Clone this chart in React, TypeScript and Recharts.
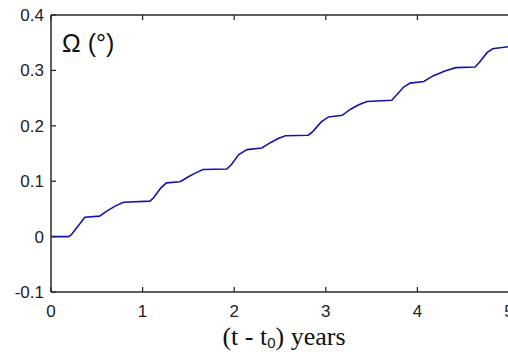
import React from 'react';
import { LineChart, Line, XAxis, YAxis, Label } from 'recharts';

// elapsed time (years) and node longitude shift Omega (deg)
const years = [
  0, 0.19, 0.22, 0.3, 0.37, 0.53, 0.6, 0.7, 0.79, 1.08, 1.12, 1.2, 1.26, 1.41, 1.5, 1.58,
  1.66, 1.92, 1.97, 2.05, 2.14, 2.3, 2.4, 2.48, 2.56, 2.81, 2.86, 2.95, 3.03, 3.18, 3.27,
  3.36, 3.45, 3.72, 3.77, 3.85, 3.92, 4.07, 4.17, 4.3, 4.42, 4.63, 4.68, 4.76, 4.82, 5.0
];
const omega = [
  0, 0, 0.003, 0.02, 0.035, 0.037, 0.045, 0.055, 0.062, 0.064, 0.07, 0.088, 0.097, 0.099,
  0.108, 0.115, 0.121, 0.122, 0.13, 0.148, 0.157, 0.16, 0.17, 0.177, 0.182, 0.183, 0.19,
  0.207, 0.216, 0.219, 0.23, 0.238, 0.244, 0.246, 0.255, 0.27, 0.277, 0.28, 0.29, 0.299,
  0.305, 0.306, 0.315, 0.332, 0.339, 0.343
];
const xTicks = [0, 1, 2, 3, 4, 5];
const yTicks = [-0.1, 0, 0.1, 0.2, 0.3, 0.4];

const data = years.map((t, i) => ({ t, omega: omega[i] }));

const AXIS = '#2a2a2a';
const TICK = 5;
const FONT = '"Liberation Sans", Arial, sans-serif';

const fmtY = (v: number) => (v === 0 ? '0' : v.toFixed(1));

// ticks point into the plot box, labels sit outside
const BottomTick = ({ x, y, payload }: any) => (
  <g>
    <line x1={x} x2={x} y1={y} y2={y - TICK} stroke={AXIS} strokeWidth={1.3} />
    <text x={x} y={y + 25} textAnchor="middle" fontFamily={FONT} fontSize={17} fill="#222">
      {payload.value}
    </text>
  </g>
);

const LeftTick = ({ x, y, payload }: any) => (
  <g>
    <line x1={x} x2={x + TICK} y1={y} y2={y} stroke={AXIS} strokeWidth={1.3} />
    <text x={x - 7} y={y + 6} textAnchor="end" fontFamily={FONT} fontSize={17} fill="#222">
      {fmtY(payload.value)}
    </text>
  </g>
);

const TopTick = ({ x, y }: any) => (
  <line x1={x} x2={x} y1={y} y2={y + TICK} stroke={AXIS} strokeWidth={1.3} />
);

const RightTick = ({ x, y }: any) => (
  <line x1={x} x2={x - TICK} y1={y} y2={y} stroke={AXIS} strokeWidth={1.3} />
);

const XTitle = ({ viewBox }: any) => {
  const cx = viewBox.x + viewBox.width / 2 + 4;
  return (
    <text x={cx} y={345} textAnchor="middle" fontFamily='"Liberation Serif", "Times New Roman", serif' fontSize={26} fill="#111">
      (t - t
      <tspan fontFamily={FONT} fontSize={15} dy={3}>0</tspan>
      <tspan dy={-3}>) years</tspan>
    </text>
  );
};

const YTitle = ({ viewBox }: any) => (
  <text x={viewBox.x + viewBox.width + 11} y={52} fontFamily={FONT} fontSize={25} fill="#111">
    Ω (°)
  </text>
);

export default function App() {
  return (
    <div style={{ position: 'absolute', left: 0, top: 0, width: 508, height: 356, overflow: 'hidden', background: '#fff' }}>
      <LineChart width={510} height={356} data={data} margin={{ top: 14, right: 0, bottom: 34, left: 0 }}>
        <XAxis
          dataKey="t"
          type="number"
          domain={[0, 5]}
          ticks={xTicks}
          height={30}
          tickSize={0}
          tickMargin={0}
          tickLine={false}
          tick={<BottomTick />}
          axisLine={{ stroke: AXIS, strokeWidth: 1.5 }}
          interval={0}
        >
          <Label content={<XTitle />} />
        </XAxis>
        <XAxis
          xAxisId="top"
          orientation="top"
          dataKey="t"
          type="number"
          domain={[0, 5]}
          ticks={xTicks}
          height={1}
          tickSize={0}
          tickMargin={0}
          tickLine={false}
          tick={<TopTick />}
          axisLine={{ stroke: AXIS, strokeWidth: 1.5 }}
          interval={0}
        />
        <YAxis
          type="number"
          domain={[-0.1, 0.4]}
          ticks={yTicks}
          width={51}
          tickSize={0}
          tickMargin={0}
          tickLine={false}
          tick={<LeftTick />}
          axisLine={{ stroke: AXIS, strokeWidth: 1.5 }}
          interval={0}
        >
          <Label content={<YTitle />} />
        </YAxis>
        <YAxis
          yAxisId="right"
          orientation="right"
          type="number"
          domain={[-0.1, 0.4]}
          ticks={yTicks}
          width={1}
          tickSize={0}
          tickMargin={0}
          tickLine={false}
          tick={<RightTick />}
          axisLine={{ stroke: AXIS, strokeWidth: 1.5 }}
          interval={0}
        />
        <Line
          type="linear"
          dataKey="omega"
          stroke="#1414a8"
          strokeWidth={1.6}
          dot={false}
          isAnimationActive={false}
        />
      </LineChart>
    </div>
  );
}
